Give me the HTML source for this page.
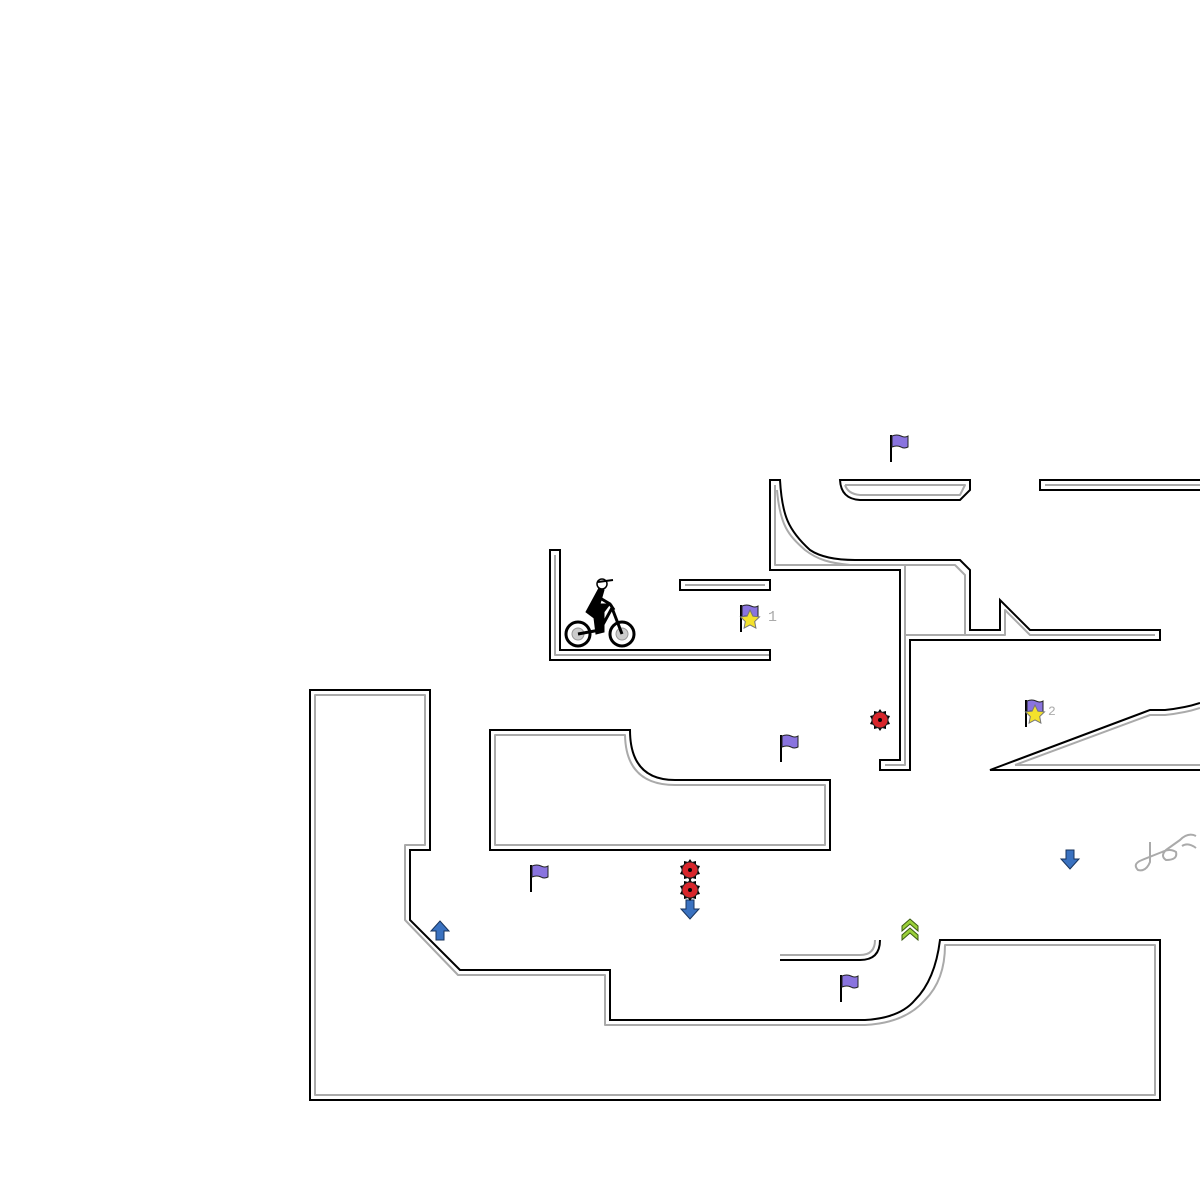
<!DOCTYPE html>
<html><head><meta charset="utf-8"><style>html,body{margin:0;padding:0;background:#fff;width:1200px;height:1200px;overflow:hidden}</style></head>
<body>
<svg width="1200" height="1200" viewBox="0 0 1200 1200" xmlns="http://www.w3.org/2000/svg">
<defs>
<g id="flag"><line x1="0" y1="0" x2="0" y2="27" stroke="#000" stroke-width="2"/><path d="M1,1 Q6,-1 10,1 Q14,3 17,1 L17,12 Q13,14 10,12 Q6,10 1,12 Z" fill="#8a74df" stroke="#222" stroke-width="1"/></g>
<g id="bomb"><path d="M0,-11 L2,-8 6,-9 6,-5 10,-4 8,0 10,4 6,5 6,9 2,8 0,11 -2,8 -6,9 -6,5 -10,4 -8,0 -10,-4 -6,-5 -6,-9 -2,-8Z" fill="#000"/><circle r="8" fill="#d8262b" stroke="#222" stroke-width="1"/><circle r="2" fill="#000"/></g>
<g id="down"><path d="M-4,-10 L4,-10 4,-1 9,-1 0,9 -9,-1 -4,-1Z" fill="#3a72c0" stroke="#17335c" stroke-width="1"/></g>
<g id="star"><path d="M0,-10 L2.9,-3.9 9.5,-3.1 4.7,1.5 5.9,8.1 0,4.9 -5.9,8.1 -4.7,1.5 -9.5,-3.1 -2.9,-3.9Z" fill="#f4e22c" stroke="#777" stroke-width="1"/></g>
</defs>
<g fill="none" stroke="#aaa" stroke-width="2" stroke-linejoin="round">
<path d="M555,555 L555,655 L770,655"/>
<path d="M685,585 L765,585"/>
<path d="M775,485 L775,565 L955,565 L965,575 L965,635"/>
<path d="M777,490 C780,525 788,535 805,550 C818,560 830,563 850,565"/>
<path d="M905,565 L905,765 L885,765"/>
<path d="M905,635 L1005,635 L1005,610 L1030,635 L1155,635"/>
<path d="M845,485 L965,485 L960,495 L860,495 Q848,494 845,485"/>
<path d="M1045,485 L1200,485"/>
<path d="M1015,765 L1200,765 M1015,765 L1150,715 L1165,715 Q1185,713 1200,708"/>
<path d="M495,735 L625,735 Q626,785 675,785 L825,785 L825,845 L495,845 Z"/>
<path d="M315,695 L425,695 L425,845 L405,845 L405,920 L458,975 L605,975 L605,1025 L865,1025 Q905,1023 925,1000 Q945,980 945,945 L1155,945 L1155,1095 L315,1095 Z"/>
<path d="M780,955 L860,955 Q875,955 875,940"/>
<path d="M1150,842 L1150,862 Q1146,872 1138,870 Q1132,864 1142,860 L1162,852 Q1170,848 1176,852 Q1178,860 1166,860 Q1160,856 1166,850 L1180,840 Q1188,832 1196,836"/>
<path d="M1182,846 Q1188,842 1196,848"/>
</g>
<g fill="none" stroke="#000" stroke-width="2" stroke-linejoin="miter">
<path d="M550,550 L560,550 L560,650 L770,650 L770,660 L550,660 Z"/>
<path d="M680,580 L770,580 L770,590 L680,590 Z"/>
<path d="M770,480 L780,480 C782,515 788,530 810,550 C822,558 840,560 855,560 L960,560 L970,570 L970,630 L1000,630 L1000,600 L1030,630 L1160,630 L1160,640 L910,640 L910,770 L880,770 L880,760 L900,760 L900,570 L770,570 Z"/>
<path d="M840,480 L970,480 L970,490 L960,500 L860,500 Q841,499 840,480 Z"/>
<path d="M1200,480 L1040,480 L1040,490 L1200,490"/>
<path d="M1200,770 L990,770 L1150,710 L1165,710 Q1185,708 1200,703"/>
<path d="M490,730 L630,730 Q630,780 675,780 L830,780 L830,850 L490,850 Z"/>
<path d="M310,690 L430,690 L430,850 L410,850 L410,920 L460,970 L610,970 L610,1020 L865,1020 Q900,1018 915,1000 Q935,980 940,940 L1160,940 L1160,1100 L310,1100 Z"/>
<path d="M780,960 L860,960 Q880,960 880,940"/>
</g>
<use href="#flag" x="891" y="435"/>
<use href="#flag" x="781" y="735"/>
<use href="#flag" x="531" y="865"/>
<use href="#flag" x="841" y="975"/>
<use href="#flag" x="741" y="605"/>
<use href="#star" x="750" y="620"/>
<use href="#flag" x="1026" y="700"/>
<use href="#star" x="1035" y="715"/>
<text x="768" y="621" font-family="Liberation Mono, monospace" font-size="15" fill="#aaa">1</text>
<text x="1048" y="715" font-family="Liberation Mono, monospace" font-size="13" fill="#aaa">2</text>
<use href="#bomb" x="880" y="720"/>
<use href="#bomb" x="690" y="870"/>
<use href="#down" x="690" y="910"/>
<use href="#bomb" x="690" y="890"/>
<use href="#down" x="1070" y="860"/>
<use href="#down" transform="translate(440,930) rotate(180)"/>
<g transform="translate(910,930)" fill="#9ad03a" stroke="#3b5a12" stroke-width="1"><path d="M-8,-4 L0,-11 8,-4 8,1 0,-6 -8,1Z"/><path d="M-8,5 L0,-2 8,5 8,10 0,3 -8,10Z"/></g>
<!-- bike -->
<g stroke="#000" fill="none">
<circle cx="578" cy="634" r="12" stroke-width="3" fill="#fff"/><circle cx="578" cy="634" r="6" fill="#ccc" stroke="#999" stroke-width="1"/>
<circle cx="622" cy="634" r="12" stroke-width="3" fill="#fff"/><circle cx="622" cy="634" r="6" fill="#ccc" stroke="#999" stroke-width="1"/>
<path d="M578,634 L600,630 L612,608 L622,634" stroke-width="3"/>
<path d="M600,632 L596,612" stroke-width="3"/>
<path d="M599,588 L604,590 L600,604 L610,604 L604,612 L604,632 L596,634 L594,618 L586,612 Z" fill="#000" stroke-width="1"/>
<path d="M600,598 L610,604 L614,610" stroke-width="3"/>
<circle cx="602" cy="584" r="5" fill="#fff" stroke-width="1.5"/>
<path d="M598,582 L613,580" stroke-width="2"/>
</g>
</svg>
</body></html>
